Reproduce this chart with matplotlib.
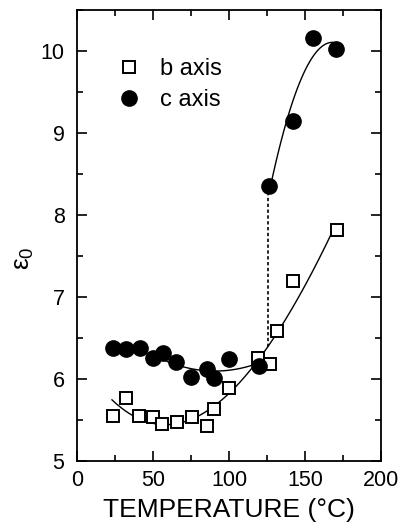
import numpy as np
import matplotlib
matplotlib.use("Agg")
import matplotlib.pyplot as plt
from matplotlib.ticker import MultipleLocator

plt.rcParams["font.family"] = ["Liberation Sans", "DejaVu Sans"]
plt.rcParams["mathtext.fontset"] = "custom"
plt.rcParams["mathtext.rm"] = "Liberation Sans"
plt.rcParams["mathtext.it"] = "Liberation Sans"

# dielectric constant along b and c, vs temperature (deg C)
b_temp = [23.9, 32.2, 40.9, 49.7, 55.9, 65.6, 75.7, 85.3, 90.3, 100.2, 119.3, 127.0, 131.8, 141.9, 170.8]
b_eps = [5.55, 5.76, 5.55, 5.53, 5.45, 5.47, 5.53, 5.42, 5.63, 5.89, 6.25, 6.18, 6.58, 7.19, 7.82]

c_temp = [23.9, 32.2, 41.4, 50.2, 56.4, 65.1, 75.0, 85.3, 90.3, 99.8, 120.0, 126.5, 141.9, 155.0, 170.4]
c_eps = [6.38, 6.36, 6.37, 6.25, 6.31, 6.20, 6.02, 6.12, 6.01, 6.24, 6.16, 8.35, 9.15, 10.16, 10.03]

t_transition = 125.5

b_temp = np.array(b_temp)
b_eps = np.array(b_eps)
c_temp = np.array(c_temp)
c_eps = np.array(c_eps)

fig = plt.figure(figsize=(4.06, 5.29), dpi=100)
ax = fig.add_axes([0.1897, 0.1291, 0.7487, 0.8519])

# guide curves: polynomial fits to each branch
pb = np.polyfit(b_temp, b_eps, 3)
tb = np.linspace(23, 170, 200)
ax.plot(tb, np.polyval(pb, tb), color="black", lw=1.0, zorder=2)

low = (c_temp >= 50) & (c_temp < t_transition)
pcl = np.polyfit(c_temp[low], c_eps[low], 2)
tcl = np.linspace(50, 118, 100)
ax.plot(tcl, np.polyval(pcl, tcl), color="black", lw=1.0, zorder=2)

high = c_temp > t_transition
pch = np.polyfit(c_temp[high], c_eps[high], 2)
tch = np.linspace(127, 170, 100)
ax.plot(tch, np.polyval(pch, tch), color="black", lw=1.0, zorder=2)

# transition marker
ax.plot([t_transition, t_transition], [np.polyval(pb, t_transition), c_eps[high][0]],
        color="black", lw=1.2, ls=(0, (2, 1.5)), zorder=1)

ax.plot(b_temp, b_eps, ls="none", marker="s", ms=9, mfc="white", mec="black",
        mew=1.4, label="b axis", zorder=3)
ax.plot(c_temp, c_eps, ls="none", marker="o", ms=11, mfc="black", mec="black",
        label="c axis", zorder=3)

ax.set_xlim(0, 200)
ax.set_ylim(5, 10.5)
ax.xaxis.set_major_locator(MultipleLocator(50))
ax.xaxis.set_minor_locator(MultipleLocator(25))
ax.yaxis.set_major_locator(MultipleLocator(1))
ax.yaxis.set_minor_locator(MultipleLocator(0.5))
ax.tick_params(which="both", direction="in", top=True, right=True, width=1.2,
               labelsize=15.5)
ax.tick_params(which="major", length=7)
ax.tick_params(axis="y", which="major", pad=9)
ax.tick_params(axis="x", which="major", pad=7)
ax.tick_params(which="minor", length=4)
for s in ax.spines.values():
    s.set_linewidth(1.3)

ax.set_xlabel("TEMPERATURE (°C)", fontsize=19, labelpad=5)
ax.set_ylabel(r"$\varepsilon_0$", fontsize=19)
ax.yaxis.set_label_coords(-0.135, 0.45)

ax.legend(loc="upper left", bbox_to_anchor=(0.055, 0.92), frameon=False,
          fontsize=17, handletextpad=0.3, labelspacing=0.38, borderpad=0)

fig.savefig("out.png", dpi=100)
